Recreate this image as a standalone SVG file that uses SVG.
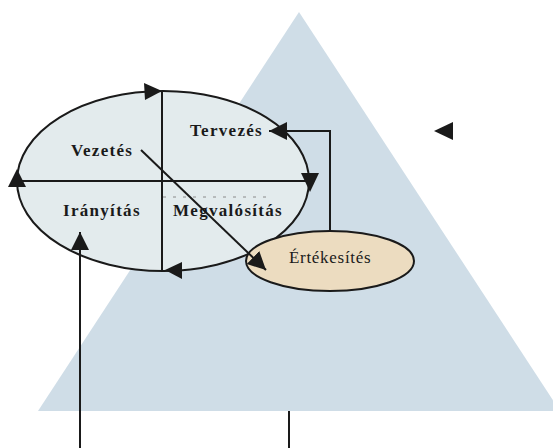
<svg xmlns="http://www.w3.org/2000/svg" width="553" height="448" viewBox="0 0 553 448">
<defs>
<style>
.ln{stroke:#1a1a1a;stroke-width:2;fill:none}
.ah{fill:#1a1a1a;stroke:none}
.lbl{font-family:"Liberation Serif","Times New Roman",serif;font-weight:bold;font-size:17px;letter-spacing:1.3px;fill:#1a1a1a}
.lbl2{font-family:"Liberation Serif","Times New Roman",serif;font-size:17px;letter-spacing:0.7px;fill:#1a1a1a}
</style>
<marker id="arr" viewBox="0 0 20 20" refX="18" refY="10" markerWidth="20" markerHeight="20" markerUnits="userSpaceOnUse" orient="auto">
<path d="M0,1 L18,10 L0,19 Z" fill="#1a1a1a"/>
</marker>
</defs>
<rect width="553" height="448" fill="#ffffff"/>
<g id="pyramid">
<polygon points="299,12 560,411 38,411" fill="#cfdde7"/>
</g>
<g id="cycle">
<ellipse cx="163" cy="181" rx="146" ry="90" fill="#e3ebed" stroke="#1a1a1a" stroke-width="2"/>
<line class="ln" x1="162" y1="91" x2="162" y2="271"/>
<line class="ln" x1="17" y1="181" x2="309" y2="181"/>
<line x1="163" y1="197" x2="268" y2="197" stroke="#8a8a8a" stroke-width="1" stroke-dasharray="3,7"/>
<polygon class="ah" points="144,83 162,91 145,100"/>
<polygon class="ah" points="301,173 319,173 310,192"/>
<polygon class="ah" points="165,270 182,262 182,279"/>
<polygon class="ah" points="17,169 8,187 26,187"/>
<text class="lbl" x="190" y="136">Tervezés</text>
<text class="lbl" x="71" y="156">Vezetés</text>
<text class="lbl" x="63" y="216">Irányítás</text>
<text class="lbl" x="173" y="216">Megvalósítás</text>
</g>
<g id="ertekesites">
<ellipse cx="330" cy="261" rx="84" ry="30" fill="#ecdcc0" stroke="#1a1a1a" stroke-width="2"/>
<text class="lbl2" x="289" y="263">Értékesítés</text>
</g>
<g id="connectors">
<polyline class="ln" points="330,231 330,131 269,131" marker-end="url(#arr)"/>
<line class="ln" x1="141" y1="150" x2="266" y2="270" marker-end="url(#arr)"/>
<line class="ln" x1="80" y1="448" x2="80" y2="232" marker-end="url(#arr)"/>
<line class="ln" x1="289" y1="411" x2="289" y2="448"/>
<polygon class="ah" points="434,131 453,122 453,140"/>
</g>
</svg>
